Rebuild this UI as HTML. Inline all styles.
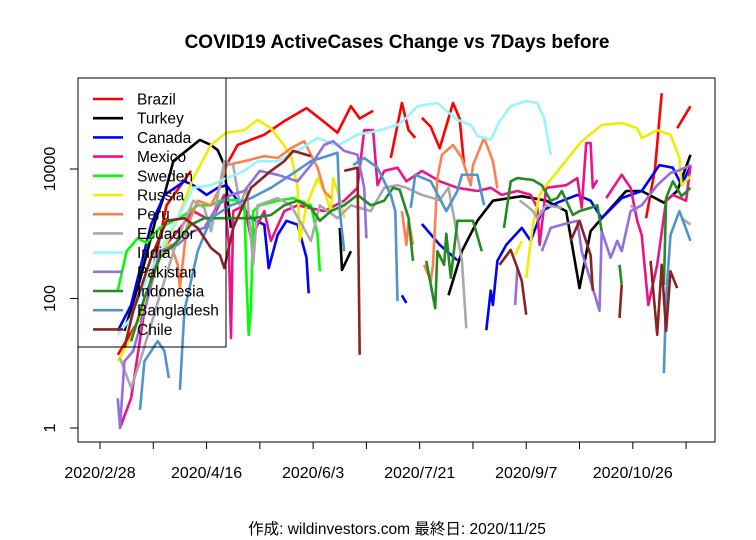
<!DOCTYPE html>
<html><head><meta charset="utf-8"><style>
body{margin:0;background:#fff;}
svg{display:block;font-family:"Liberation Sans","Noto Sans CJK JP",sans-serif;}
</style></head><body>
<svg id="chart" width="756" height="540" xmlns="http://www.w3.org/2000/svg">
<rect x="0" y="0" width="756" height="540" fill="#fff"/>
<text x="397" y="48" text-anchor="middle" font-size="19" font-weight="bold">COVID19 ActiveCases Change vs 7Days before</text>
<g id="series"></g>
<rect x="78" y="78" width="637" height="364" fill="none" stroke="#000" stroke-width="1"/>
<g id="axes"></g>
<g id="legend"></g>
<text x="397" y="534" text-anchor="middle" font-size="15.5">作成: wildinvestors.com 最終日: 2020/11/25</text>
</svg>
<script>
// day offsets from 2020/2/28, values are log10(active cases change)
const xTickDays=[0,48,96,144,192,240];
const xTickLabels=["2020/2/28","2020/4/16","2020/6/3","2020/7/21","2020/9/7","2020/10/26"];
const xMinorDays=[0,24,48,72,96,120,144,168,192,216,240,264];
const yTickLog=[0,2,4];
const yTickLabels=["1","100","10000"];
const seriesNames=["Brazil","Turkey","Canada","Mexico","Sweden","Russia","Peru","Ecuador","India","Pakistan","Indonesia","Bangladesh","Chile"];
const seriesColors=["#FF0000","#000000","#0000FF","#EE1289","#00FF00","#EEEE00","#FF7F50","#A9A9A9","#98F5FF","#9370DB","#228B22","#4F94CD","#8B2323"];

const brazilDays=[8,20,30,41,44,57,62,74,83,93,99,107,113,117,123,125,131,136,139,142,143,145,149,153,159,162,164,165,246,250,253,254,260,266];
const brazilLog=[1.13,1.81,3.44,3.97,null,4.06,4.37,4.53,4.74,4.94,4.78,4.56,4.97,4.78,4.90,null,4.17,5.02,4.60,4.48,null,4.79,4.65,4.32,5.02,4.78,4.06,null,3.24,4.0,5.17,null,4.63,4.97];
const turkeyDays=[11,18,25,29,33,45,50,53,56,58,59,60,108,109,113,114,157,163,170,177,190,201,210,215,216,221,226,237,244,254,260,266];
const turkeyLog=[1.5,2.29,3.21,3.60,4.12,4.45,4.37,4.29,4.06,3.35,3.09,null,3.09,2.44,2.73,null,2.05,2.73,3.20,3.51,3.58,3.51,3.35,2.36,2.16,3.04,3.24,3.66,3.66,3.48,3.66,4.22];
const canadaDays=[8,14,23,29,38,42,48,53,57,62,68,74,76,80,84,89,93,94,95,136,138,139,145,153,161,162,174,176,177,179,183,190,194,199,206,215,221,226,235,244,252,258,262,266];
const canadaLog=[1.50,1.90,3.14,3.60,3.81,3.75,3.60,3.71,3.75,3.51,3.24,3.14,2.47,2.98,3.20,3.14,2.63,2.08,null,2.05,1.93,null,3.15,2.83,2.59,null,1.51,2.12,1.90,2.58,2.83,3.09,2.89,3.35,3.48,3.60,3.51,3.24,3.55,3.66,4.06,4.02,3.75,4.05];
const mexicoDays=[9,14,20,27,35,42,50,56,58,59,60,65,68,74,77,83,89,101,110,116,119,123,125,128,134,138,145,153,161,170,176,181,188,194,197,198,201,210,215,217,219,221,222,224,225,228,235,239,242,244,247,251,255,258,264,266];
const mexicoLog=[0,0.46,1.81,2.73,3.04,3.35,3.20,3.60,2.83,1.39,3.35,3.44,2.93,3.35,2.89,3.35,3.44,3.35,3.51,3.71,4.60,4.60,3.75,3.97,4.02,3.81,3.97,3.81,3.71,3.66,3.71,3.60,3.66,3.60,3.40,2.83,3.71,3.75,3.86,3.40,4.40,4.40,3.71,3.83,null,3.55,3.91,3.71,3.20,2.98,1.90,2.52,3.51,3.60,3.51,4.06];
const swedenDays=[8,12,17,21,27,38,44,50,54,59,65,66,67,68,69,72,80,87,95,98,99];
const swedenLog=[2.12,2.73,2.93,2.86,3.09,3.29,3.44,3.44,3.51,3.52,3.51,2.32,1.44,1.85,3.35,3.44,3.51,3.55,3.44,2.98,2.42];
const russiaDays=[8,14,20,27,35,42,50,57,65,71,77,81,86,89,90,93,98,101,104,105,108,110,111,187,190,191,192,195,198,201,208,217,226,235,242,244,251,257,261,262,266];
const russiaLog=[1.03,1.39,1.90,2.63,3.24,3.86,4.37,4.56,4.60,4.76,4.63,4.45,4.22,3.71,2.89,3.44,3.86,3.66,3.35,3.86,3.55,3.24,null,2.67,2.89,null,2.32,3.14,3.60,3.75,4.05,4.43,4.68,4.71,4.63,4.48,4.60,4.53,4.17,3.75,3.89];
const peruDays=[24,32,35,36,39,44,50,54,57,65,74,80,86,92,95,98,101,104,105,136,138,139,141,142,146,149,150,152,154,159,163,167,168,173,177,179];
const peruLog=[2.63,2.83,2.52,2.16,3.09,3.51,3.44,3.71,4.06,4.12,4.20,4.17,4.32,4.43,4.22,4.02,3.66,3.55,null,3.35,2.83,3.2,2.83,null,2.52,2.27,2.52,3.86,4.22,4.37,4.17,3.75,4.06,4.48,4.12,3.70];
const ecuadorDays=[9,14,18,27,35,42,47,50,56,60,63,66,69,71,80,86,95,99,107,113,122,128,134,138,145,153,157,163,165,166,189,192,195,197,201,208,209,239,242,243,262,266];
const ecuadorLog=[1.08,0.62,1.03,2.05,2.93,3.51,3.40,3.04,4.12,4.06,3.44,3.71,2.52,3.44,3.55,3.44,2.89,3.44,3.24,3.44,3.35,3.71,3.75,3.71,3.60,3.52,3.71,2.59,1.54,null,3.51,3.44,3.35,3.24,3.44,3.40,null,3.44,3.35,null,3.24,3.14];
const indiaDays=[8,14,20,27,35,42,50,57,65,71,80,89,98,107,116,125,134,138,143,152,156,161,167,170,176,180,185,192,197,200,203];
const indiaLog=[1.44,1.70,2.21,2.73,3.24,3.71,3.75,3.86,3.97,4.12,4.12,4.28,4.48,4.36,4.53,4.59,4.68,4.79,4.97,5.02,4.90,4.76,4.68,4.51,4.45,4.74,4.97,5.05,5.02,4.79,4.22];
const pakistanDays=[8,9,11,15,20,27,35,42,47,53,59,65,72,80,89,95,101,105,110,116,119,120,121,187,188,189,199,203,208,215,217,225,226,230,233,235,239,244,251,257,261,266];
const pakistanLog=[0.46,0,1.03,1.19,1.81,2.73,2.83,3.04,3.09,3.44,3.60,3.66,3.97,3.91,3.81,4.06,4.37,4.43,4.28,4.22,3.71,2.93,null,1.90,2.47,null,2.73,3.09,3.14,3.20,2.73,1.81,3.04,2.63,2.89,2.73,3.35,3.44,3.75,3.94,3.98,4.06];
const indonesiaDays=[14,20,27,35,41,47,54,62,69,77,83,89,95,99,104,110,116,122,128,132,135,139,141,142,147,151,152,155,156,158,161,168,172,173,182,185,188,195,199,203,206,208,213,216,221,224,226,227,234,235,236,254,255,258,262,266];
const indonesiaLog=[1.34,2.01,2.63,2.89,3.14,3.24,3.24,3.24,3.24,3.29,3.44,3.51,3.40,3.20,3.35,3.44,3.60,3.44,3.51,3.71,3.68,3.24,2.58,null,2.58,1.85,2.73,2.52,3.0,2.32,3.20,3.20,2.73,null,3.09,3.81,3.86,3.83,3.75,3.51,3.55,3.66,3.29,3.35,3.40,3.44,3.04,null,2.52,2.21,null,2.21,3.55,3.81,3.58,3.71];
const bangladeshDays=[18,20,26,29,31,32,36,38,44,50,59,68,77,86,95,107,108,110,111,114,119,125,131,133,134,135,140,142,149,156,161,163,170,173,174,254,255,257,261,266];
const bangladeshLog=[0.28,1.03,1.34,1.19,0.77,null,0.59,1.81,2.73,3.24,3.44,3.55,3.71,3.91,4.12,4.25,3.35,2.73,null,4.06,4.17,4.02,3.60,3.35,1.96,null,3.40,3.91,3.81,3.35,3.66,3.91,3.91,3.44,null,0.85,2.01,2.98,3.35,2.89];
const chileDays=[11,15,23,30,38,44,50,54,56,60,68,77,83,87,95,96,110,116,117,118,180,185,188,190,192,193,212,216,221,222,223,234,235,236,248,251,253,255,257,260];
const chileLog=[1.24,1.81,2.63,3.20,3.24,3.09,2.78,2.67,2.47,3.09,3.71,3.97,4.12,4.28,4.20,null,3.97,4.02,1.13,null,2.52,2.75,2.47,2.27,1.75,null,2.89,3.20,2.67,2.12,null,1.70,2.21,null,2.58,1.44,2.52,1.50,2.42,2.16];

const allDays=[brazilDays,turkeyDays,canadaDays,mexicoDays,swedenDays,russiaDays,peruDays,ecuadorDays,indiaDays,pakistanDays,indonesiaDays,bangladeshDays,chileDays];
const allLog=[brazilLog,turkeyLog,canadaLog,mexicoLog,swedenLog,russiaLog,peruLog,ecuadorLog,indiaLog,pakistanLog,indonesiaLog,bangladeshLog,chileLog];

const NS="http://www.w3.org/2000/svg";
function xScale(d){return 100+d*2.22;}
function yScale(l){return 428-l*64.75;}
function mk(tag,attrs,parent){const e=document.createElementNS(NS,tag);for(const k in attrs)e.setAttribute(k,attrs[k]);parent.appendChild(e);return e;}

const sg=document.getElementById('series');
for(let s=0;s<seriesNames.length;s++){
  const days=allDays[s],vals=allLog[s];
  let d="",pen=false;
  for(let i=0;i<days.length;i++){
    if(vals[i]===null){pen=false;continue;}
    d+=(pen?"L":"M")+xScale(days[i]).toFixed(1)+","+yScale(vals[i]).toFixed(1);
    pen=true;
  }
  const p=mk('path',{d:d,fill:'none',stroke:seriesColors[s],'stroke-width':2.6,'stroke-linejoin':'round'},sg);
  
  
}

const ax=document.getElementById('axes');
mk('line',{x1:78,y1:yScale(0),x2:78,y2:yScale(4),stroke:'#000'},ax);
for(let i=0;i<yTickLog.length;i++){
  const y=yScale(yTickLog[i]);
  const t=mk('line',{x1:70,y1:y,x2:78,y2:y,stroke:'#000'},ax);
  
  
  const lb=mk('text',{x:0,y:0,transform:'translate(55,'+y+') rotate(-90)','text-anchor':'middle','font-size':16},ax);
  lb.textContent=yTickLabels[i];
  
  
}
mk('line',{x1:xScale(xMinorDays[0]),y1:442,x2:xScale(xMinorDays[xMinorDays.length-1]),y2:442,stroke:'#000'},ax);
for(const d of xMinorDays){
  const t=mk('line',{x1:xScale(d),y1:442,x2:xScale(d),y2:449,stroke:'#000'},ax);
  
  
}
for(let i=0;i<xTickDays.length;i++){
  const lb=mk('text',{x:xScale(xTickDays[i]),y:478,'text-anchor':'middle','font-size':16},ax);
  lb.textContent=xTickLabels[i];
  
  
}

const lg=document.getElementById('legend');
const box=mk('rect',{x:78,y:78,width:148,height:269,fill:'none',stroke:'#000'},lg);


for(let i=0;i<seriesNames.length;i++){
  const y=99+i*19.2;
  const g=mk('g',{},lg);
  
  
  mk('line',{x1:93,y1:y,x2:123,y2:y,stroke:seriesColors[i],'stroke-width':2.6},g);
  const t=mk('text',{x:137,y:y+5.5,'font-size':15.5},g);
  t.textContent=seriesNames[i];
}
</script>
</body></html>
